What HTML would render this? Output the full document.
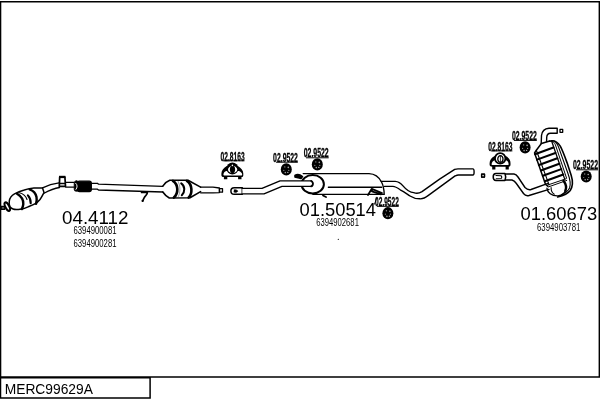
<!DOCTYPE html>
<html><head><meta charset="utf-8"><style>
html,body{margin:0;padding:0;background:#fff;width:600px;height:400px;overflow:hidden}
svg{display:block;will-change:transform}
text{font-family:"Liberation Sans",sans-serif;fill:#000}
</style></head><body>
<svg width="600" height="400" viewBox="0 0 600 400">
<g fill="none" stroke="#000">
<!-- frame -->
<path d="M0.5 377V1.7H599.4V377H0" stroke-width="1.6"/>
<path d="M0 377.8H150.1V397.9H0.5V377" stroke-width="1.5"/>
</g>
<text x="4.7" y="394" font-size="13.8">MERC99629A</text>

<!-- PART 1: front pipe with cats -->
<g fill="none" stroke="#000" stroke-width="1.3" stroke-linejoin="round" stroke-linecap="round">
<!-- stub -->
<rect x="1.3" y="206.3" width="3.4" height="3" fill="#555" stroke-width="1.2"/>
<!-- flange ring -->
<ellipse cx="7.3" cy="206.6" rx="1.9" ry="4.6" transform="rotate(-27 7.3 206.6)" stroke-width="2.1"/>
<!-- cat1 body -->
<path d="M9.3 201 C9.8 197.5 11.8 195.2 14.5 193.8 C17.5 192.2 21 190.9 24.3 190 C27.5 188.9 30.5 188.2 34 188 L42.5 187.9 L44 192.6 C42.5 195.5 41.5 197.5 40 199.5 C38.5 201.3 37 202.7 35.3 203.6 C33.5 204.7 31.5 205.5 29.5 206.2 C27 207.3 25 208.3 23 208.8 L18.4 209.4 C16.2 209.6 14.5 209.6 13 209 C11.5 208.4 10.4 207.6 9.9 206.6 C9.2 205 9 203 9.3 201 Z" stroke-width="1.5"/>
<path d="M17.1 193.8 C21.5 196.5 23.6 200.5 23.3 204.2 C23.1 206.3 22.6 207.8 21.8 209.1" stroke-width="2.4"/>
<path d="M19.3 192.7 C23 193.5 25.8 196 27 199.5" stroke-width="1.1"/>
<path d="M27.9 195.4 C29.8 197.5 30.8 200 30.7 203.2" stroke-width="2.1"/>
<path d="M29.6 189.3 C33 190.5 35.8 193.5 36.5 197 C37 199.5 36.7 201.6 36.1 203.8" stroke-width="2.4"/>
<!-- pipe cat1 -> bracket -->
<path d="M42.5 187.8 C48 185 53 183.5 59 182.8"/>
<path d="M44 193.3 C49 190.5 54 188.3 59.5 187.5"/>
<!-- bracket -->
<path d="M59.7 177 L64.9 177 L65.5 186.4 L59.3 186.4 Z" stroke-width="1.7"/>
<rect x="59" y="175.8" width="6.4" height="2.3" fill="#000" stroke="none"/>
<path d="M59.5 183.4 H65.3" stroke-width="1.5"/>
<!-- pipe bracket -> flex -->
<path d="M65.8 182.4 H74"/><path d="M65.8 187.2 H74"/>
<!-- flex -->
<rect x="77.5" y="181.2" width="13.8" height="10.4" rx="2" fill="#000"/>
<rect x="74.2" y="180.9" width="4.6" height="10.4" rx="2" fill="#000" stroke-width="0.8"/>
<path d="M75.7 183.2 C77.5 184.5 77.6 187.5 76 189.4" stroke="#fff" stroke-width="1"/>
<!-- sleeve + pipe to cat2 -->
<path d="M91.3 183.3 H97.5 L98.5 184.2 L162.8 186.3"/>
<path d="M91.3 189.2 H97.5 L98.5 190 L162.8 192"/>

<!-- bracket 7 -->
<path d="M141.6 192.4 H147.4 C147.6 194.3 145.8 195.3 144.8 196.8 C143.8 198.3 143.2 199.8 142.6 201.2" stroke-width="1.7"/><circle cx="142.6" cy="200.8" r="1.1" fill="#000" stroke="none"/>
<!-- cat2 -->
<path stroke-width="1.6" d="M162.8 186.1 C164.5 183.5 166.5 181.5 169.8 180.3 L188 180.3 L200.6 187.1 M162.8 192 C164.5 194.5 166.5 196.5 169.3 198 L190 197.8 L200.6 191.6"/>
<path d="M172.9 180.8 C178.6 184.5 178.6 193.5 173.9 197.6" stroke-width="2.6"/>
<path d="M178 181.2 C180.5 186 180.5 192 178.4 196.5" stroke-width="0.7" stroke="#777"/>
<path d="M181.2 183.3 C185.2 186 185.2 192 181.8 195.3" stroke-width="2"/>
<path d="M186.9 180.8 C192.6 184.5 192.6 193.5 188.6 197.6" stroke-width="2.6"/>
<!-- outlet -->
<path d="M200.6 187.2 H213 L219.4 188 V192.6 L213 192.8 H200.6" />
<rect x="219.5" y="188.6" width="3" height="3.6" stroke-width="1.3"/>
</g>

<!-- small parts symbols -->
<defs>
<g id="clamp">
<path d="M-10.9 4.5 C-10.9 1.5 -8.5 -1 -5.5 -2.8 L5.5 -2.8 C8.5 -1 11 1.5 11 4.5 L11 6.3 C11 7.5 10.2 8.2 9.2 8.2 L9.2 10.3 L5.8 10.3 L5.8 8.2 L-5 8.2 L-5 10.3 L-8.4 10.3 L-8.4 8.2 C-9.8 8.2 -10.9 7.5 -10.9 6.3 Z" fill="#000"/>
<path d="M-8.9 5.8 C-8.9 3.8 -7.5 2.5 -6 2 L-3 1.5 L3 1.5 L6.5 2 C8.3 2.6 9.9 3.8 9.9 5.8 C9.9 6.3 9.5 6.6 9 6.6 L-8.2 6.6 C-8.6 6.6 -8.9 6.3 -8.9 5.8Z" fill="#fff"/>
<circle cx="0.1" cy="-0.4" r="6" fill="#000"/>
<ellipse cx="0.3" cy="0.6" rx="4.6" ry="3.6" fill="#fff"/>
<ellipse cx="0.2" cy="0.6" rx="2.6" ry="3.7" fill="#000"/>
<circle cx="0.1" cy="-3.5" r="0.8" fill="#fff"/>
</g>
<g id="clamp2">
<path d="M-10.6 4.8 C-10.6 1.5 -8.5 -1 -5.5 -2.5 L5.5 -2.5 C8.5 -1 10.3 1.5 10.3 4.8 L10.3 6.3 C10.3 7.6 9.6 8.3 8.6 8.3 L8.6 11 L5.4 11 L5.4 8.3 L-4.8 8.3 L-4.8 11 L-8 11 L-8 8.3 C-9.5 8.3 -10.6 7.6 -10.6 6.3 Z" fill="#000"/>
<path d="M-8.6 6 C-8.6 3.8 -7.2 2.5 -5.8 1.8 L-3 1 L3 1 L6 1.8 C7.6 2.5 8.4 3.8 8.4 6 C8.4 6.4 8.1 6.7 7.6 6.7 L-7.9 6.7 C-8.3 6.7 -8.6 6.4 -8.6 6Z" fill="#fff"/>
<circle cx="0" cy="0" r="5.2" fill="#fff" stroke="#000" stroke-width="1.8"/>
<ellipse cx="0.2" cy="0.6" rx="2.6" ry="3.3" fill="none" stroke="#000" stroke-width="1.3"/>
<path d="M0.2 -2.4 V3.6" stroke="#000" stroke-width="0.8"/>
</g>
<g id="ring">
<ellipse cx="0" cy="0" rx="5.5" ry="6.1" fill="#000"/>
<circle cx="-1.5" cy="-2.5" r="0.7" fill="#888"/>
<circle cx="2" cy="-2" r="0.8" fill="#aaa"/>
<circle cx="-2.5" cy="1" r="0.6" fill="#888"/>
<circle cx="2.5" cy="1" r="0.6" fill="#999"/>
<circle cx="-1" cy="3.2" r="0.8" fill="#999"/>
<circle cx="1.5" cy="3" r="0.7" fill="#aaa"/>
</g>
</defs>
<use href="#clamp" x="232.3" y="168.9"/>
<use href="#ring" x="286.3" y="169.4"/>
<use href="#ring" x="317.3" y="164.4"/>
<use href="#ring" x="387.9" y="213.2"/>
<use href="#clamp2" x="500.2" y="158.4"/>
<use href="#ring" x="525.1" y="147.4"/>
<use href="#ring" x="586.2" y="176.5"/>
<g font-weight="bold" font-size="12.2" stroke="#000" stroke-width="0.3">
<text x="220.6" y="160.5" textLength="24" lengthAdjust="spacingAndGlyphs">02.8163</text>
<text x="273.1" y="161.8" textLength="24.8" lengthAdjust="spacingAndGlyphs">02.9522</text>
<text x="303.7" y="157.4" textLength="25" lengthAdjust="spacingAndGlyphs">02.9522</text>
<text x="375.1" y="205.8" textLength="23.7" lengthAdjust="spacingAndGlyphs">02.9522</text>
<text x="488.2" y="150.6" textLength="24.2" lengthAdjust="spacingAndGlyphs">02.8163</text>
<text x="512" y="140" textLength="24.8" lengthAdjust="spacingAndGlyphs">02.9522</text>
<text x="573" y="169.4" textLength="25" lengthAdjust="spacingAndGlyphs">02.9522</text>
</g>
<g stroke="#000" stroke-width="1">
<path d="M276 162.2H297.8"/><path d="M306 157.8H328.7"/><path d="M377 206.3H398.7"/>
<path d="M514 140.4H536.8"/><path d="M576 169.8H598"/><path d="M223 160.8H244.5"/><path d="M491 150.9H512.4"/>
<path d="M374.4 204.5L376.6 198.3"/>
</g>
<!-- PART 2: middle section -->
<g fill="none" stroke="#000" stroke-width="1.4" stroke-linejoin="round" stroke-linecap="round">
<!-- inlet end collar -->
<path d="M242.3 187.7 H234.2 C231.8 187.7 230.9 189.5 230.9 191 C230.9 192.6 231.8 194.3 234.2 194.3 H242.3 Z" stroke-width="1.5"/>
<path d="M234 189.8 C235.5 189.5 237.5 190 237.8 191.2 C237 192.5 235 192.7 233.8 192" fill="#000" stroke-width="0.6"/>

<!-- muffler -->
<path d="M303.2 173.6 H369 C375 173.8 379.5 178 381.5 182 C383.2 185 384 188.5 384.2 194.4 H313" />
<path d="M328.4 187.2 H381.7"/>
<ellipse cx="312.7" cy="184.2" rx="11.2" ry="9.2" stroke-width="2"/>
<path d="M242.3 188.4 H262 L280 180.9 H311 C313.3 181 313.3 186.4 311 186.4 H282 L264 193.9 H242.3" fill="#fff"/>
<path d="M311.2 181 C313.5 182 313.5 185.5 311.2 186.4" stroke-width="1.8"/>
<path d="M295 175.5 C297 174 300 174.5 302.5 176.5 L301 178.5 C298.5 177.5 296.5 177.5 295 177 Z" fill="#000" stroke-width="1.6"/>
<path d="M323 195.5 L326 197" stroke-width="1.8"/>
<path d="M368 195 L371.8 188.8 L382 193 M372 191.3 L381 194.3" stroke-width="1.8"/>
<!-- outlet pipe -->
<path d="M381.3 181.4 H395.2 C399 181.6 401 183.5 403 185.9 C406 189.5 410 192.5 413.7 192.6 C416 193.5 419 193.5 422 191.6 L439.6 179.1 L454.7 169.3 C456 168.9 457 168.9 458 168.9 H472.9 C474.5 168.9 474.5 175 472.9 175 H458.4 C457 175 456 175.5 455.1 175.9 L428.4 195.4 C425 198 422 199 419.9 198.8 C416 198.8 413 198 410 196 C407 194 404 191.5 400.2 189.8 C397 187.5 395 186.4 392.9 186.4 H384.5"/>
<rect x="481.6" y="174.1" width="2.9" height="3" stroke-width="1.3"/>
</g>
<!-- PART 3: rear section -->
<g fill="none" stroke="#000" stroke-width="1.4" stroke-linejoin="round" stroke-linecap="round">
<rect x="481.6" y="174.1" width="2.9" height="3" stroke-width="1.3"/>
<!-- inlet collar -->
<path d="M505 173.6 H496 C493.5 173.6 493.2 175.5 493.2 177 C493.2 178.6 493.6 180.4 496 180.4 H505 C506 178 506 176 505 173.6Z" stroke-width="1.5"/>
<path d="M496 175.5 L501 175.8 C502 176.5 502 178 501 178.5 L496.2 178.7" stroke-width="1.1"/>
<path d="M505.5 174 H514 C516 174.3 517 175.5 518 177 L525 187.5 C527 189.5 529 190 531 189.5 L548 183.3"/>
<path d="M505.5 180 H512 C514 180.5 515 181.5 516 183 L523.5 193.5 C525 195.5 527 196 529 195.5 L549 189.4"/>
<!-- rear muffler tailpipe -->
<path d="M541.2 143.5 L541.5 135.5 C542 131 545 128.5 549 128.2 H557.2 V133.3 H550.5 C548 133.3 546.8 135 546.7 137.5 L546.6 141.5"/>
<rect x="560" y="129.4" width="2.7" height="2.9" stroke-width="1.3"/>
<!-- muffler (local coords) -->
<g transform="translate(553 168) rotate(-20)">
<path d="M5.8 -26.4 C10 -26.2 13.2 -23 14.3 -18 C14.9 -14 15 -8 15 0 L14.6 13 C14.3 20 12.5 24 8.5 27 C5 29.3 1 29.5 -5.5 28.8" stroke-width="1.6"/>
<path d="M7 -26 C9 -25.5 10.2 -23.5 10.2 -21 L9.3 14" stroke-width="0.9"/>
<path d="M8 -26.3 C11 -25 12.3 -22 12.4 -18 L12.2 10 C12.2 18 11.3 21.5 8.7 24.5 C6 27 3 27.8 -1 27.8" stroke-width="1.1"/>
<path d="M7.9 -25.5 L7.2 14.5" stroke-width="1.3"/>
<path d="M-2.5 -27 L6.2 -26.5 M-2.5 -27 L-9.6 -22.4 L-12.2 -20.4 L-12.6 13 L-11.2 15.3" stroke-width="1.5"/>
<path d="M-9.6 -22.4 L-9.4 14.5" stroke-width="1.1"/>
<g stroke-width="2.1"><path d="M-12.2 -19.10 L7.4 -19.10"/><path d="M-12.2 -13.35 L7.4 -13.35"/><path d="M-12.2 -7.60 L7.4 -7.60"/><path d="M-12.2 -1.85 L7.4 -1.85"/><path d="M-12.2 3.90 L7.4 3.90"/><path d="M-12.2 9.65 L7.4 9.65"/></g>
<path d="M-11 14.2 L8.8 14.6 M-10.8 16.2 L8.6 16.4" stroke-width="0.9"/>
<path d="M-12.6 17 C-13.6 21 -11 26 -4.8 27.9 C0 29 3 27 4.4 24.5" stroke-width="1.4"/>
<path d="M5.5 15.5 C6.6 19 6.2 23 4 25.5" stroke-width="2.4"/>
<path d="M-8.5 17.8 C-9.6 20.5 -9 23.5 -7.8 25" stroke-width="1.1"/>
</g>
</g>
<circle cx="338.3" cy="239.3" r="0.6" fill="#000"/>
<!-- big labels -->
<text x="62" y="223.8" font-size="18.6" textLength="66.5" lengthAdjust="spacingAndGlyphs">04.4112</text>
<text x="73.5" y="234.2" font-size="10.2" textLength="43" lengthAdjust="spacingAndGlyphs">6394900081</text>
<text x="73.5" y="247" font-size="10.2" textLength="43" lengthAdjust="spacingAndGlyphs">6394900281</text>
<text x="299.5" y="215.8" font-size="18.6" textLength="76.5" lengthAdjust="spacingAndGlyphs">01.50514</text>
<text x="316.3" y="226.2" font-size="10.2" textLength="42.6" lengthAdjust="spacingAndGlyphs">6394902681</text>
<text x="520.5" y="219.7" font-size="18.6" textLength="76.8" lengthAdjust="spacingAndGlyphs">01.60673</text>
<text x="537" y="230.7" font-size="10.2" textLength="43.4" lengthAdjust="spacingAndGlyphs">6394903781</text>
</svg>
</body></html>
